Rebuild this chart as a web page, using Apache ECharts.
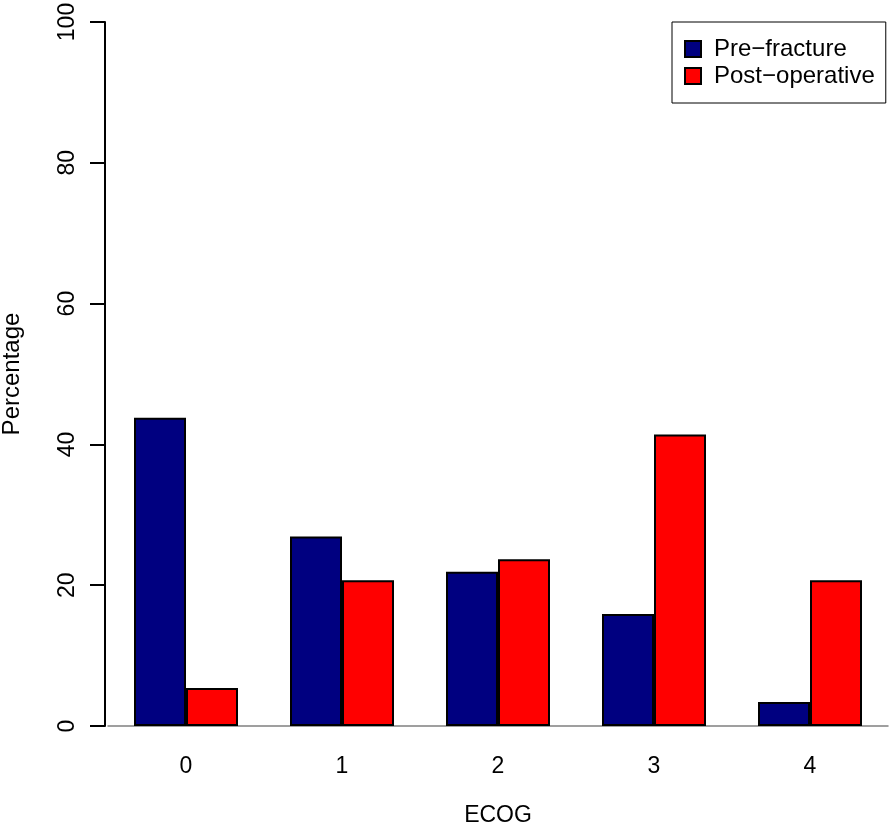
<!DOCTYPE html>
<html>
<head>
<meta charset="utf-8">
<script src="https://cdn.jsdelivr.net/npm/echarts@6/dist/echarts.min.js"></script>
<style>html,body{margin:0;padding:0;background:#fff}#c{width:890px;height:825px}</style>
</head>
<body>
<div id="c"></div>
<script>
const categories = ['0', '1', '2', '3', '4'];
const preFracture = [43.8, 26.9, 21.9, 15.9, 3.4];
const postOperative = [5.4, 20.7, 23.7, 41.4, 20.7];
const seriesNames = ['Pre\u2212fracture', 'Post\u2212operative'];
const yTicks = { min: 0, max: 100, interval: 20 };

const FONT = 'Liberation Sans, Arial, Helvetica, sans-serif';
const chart = echarts.init(document.getElementById('c'), null, { renderer: 'canvas' });
chart.setOption({
  animation: false,
  backgroundColor: '#ffffff',
  grid: { left: 108, right: 2, top: 22, bottom: 99, containLabel: false, outerBoundsMode: 'none' },
  legend: {
    orient: 'vertical',
    left: 672,
    top: 22,
    padding: [15, 11, 15, 12],
    itemGap: 3,
    itemWidth: 16,
    itemHeight: 16,
    icon: 'rect',
    borderColor: '#000',
    borderWidth: 1,
    borderRadius: 0,
    textStyle: { fontFamily: FONT, fontSize: 24, color: '#000', padding: [0, 0, 0, 8] },
    data: seriesNames
  },
  xAxis: {
    type: 'category',
    data: categories,
    name: 'ECOG',
    nameLocation: 'middle',
    nameGap: 78,
    nameTextStyle: { fontFamily: FONT, fontSize: 23, color: '#000' },
    axisLine: { show: true, lineStyle: { color: '#808080', width: 1.5 } },
    axisTick: { show: false },
    axisLabel: { fontFamily: FONT, fontSize: 23, color: '#000', margin: 29 },
    splitLine: { show: false }
  },
  yAxis: {
    type: 'value',
    min: yTicks.min,
    max: yTicks.max,
    interval: yTicks.interval,
    offset: 3,
    name: 'Percentage',
    nameLocation: 'middle',
    nameGap: 81,
    nameTextStyle: { fontFamily: FONT, fontSize: 24, color: '#000' },
    axisLine: { show: true, lineStyle: { color: '#000', width: 2 } },
    axisTick: { show: true, length: 15, lineStyle: { color: '#000', width: 2 } },
    axisLabel: { fontFamily: FONT, fontSize: 23, color: '#000', rotate: 90, margin: 26 },
    splitLine: { show: false }
  },
  series: [
    {
      name: seriesNames[0],
      type: 'bar',
      data: preFracture,
      barWidth: 52,
      barGap: '0%',
      itemStyle: { color: '#000080', borderColor: '#000', borderWidth: 2 }
    },
    {
      name: seriesNames[1],
      type: 'bar',
      data: postOperative,
      barWidth: 52,
      barGap: '0%',
      itemStyle: { color: '#ff0000', borderColor: '#000', borderWidth: 2 }
    }
  ]
});
</script>
</body>
</html>
